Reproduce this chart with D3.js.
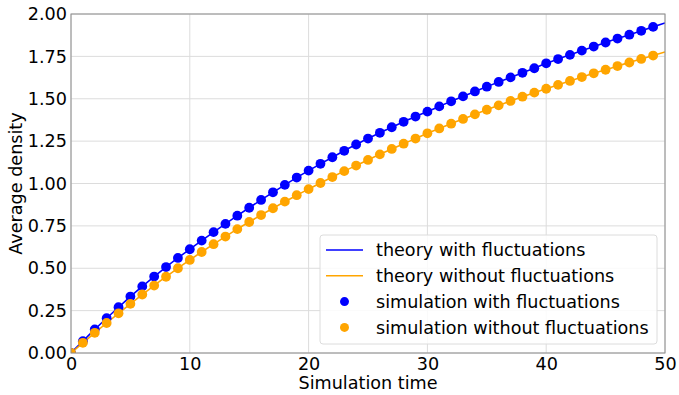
<!DOCTYPE html>
<html>
<head>
<meta charset="utf-8">
<script src="https://cdn.jsdelivr.net/npm/d3@7"></script>
<style>
  body { margin: 0; background: #fff; }
  text { font-family: "DejaVu Sans", sans-serif; fill: #000; }
</style>
</head>
<body>
<svg id="chart" width="679" height="395"></svg>
<script>
// values
var simTimes = d3.range(0, 50);
var theoryTimes = d3.range(0, 51);
var withFluct = [0, 0.070, 0.139, 0.205, 0.270, 0.333, 0.393, 0.451, 0.507, 0.561,
  0.612, 0.663, 0.713, 0.762, 0.810, 0.857, 0.903, 0.948, 0.992, 1.035,
  1.076, 1.116, 1.155, 1.193, 1.230, 1.265, 1.299, 1.332, 1.364, 1.395,
  1.424, 1.455, 1.485, 1.514, 1.543, 1.571, 1.599, 1.626, 1.653, 1.680,
  1.709, 1.734, 1.759, 1.784, 1.808, 1.832, 1.855, 1.878, 1.901, 1.924, 1.947];
var withoutFluct = [0, 0.060, 0.119, 0.177, 0.234, 0.290, 0.345, 0.398, 0.450, 0.500,
  0.549, 0.596, 0.642, 0.687, 0.731, 0.773, 0.814, 0.854, 0.893, 0.931,
  0.967, 1.003, 1.038, 1.073, 1.106, 1.139, 1.172, 1.204, 1.235, 1.265,
  1.296, 1.325, 1.353, 1.381, 1.408, 1.435, 1.461, 1.487, 1.512, 1.536,
  1.559, 1.582, 1.605, 1.628, 1.650, 1.671, 1.693, 1.714, 1.735, 1.755, 1.776];
var xTicks = [0, 10, 20, 30, 40, 50];
var yTicks = [0, 0.25, 0.5, 0.75, 1.0, 1.25, 1.5, 1.75, 2.0];
var legendLabels = ["theory with fluctuations", "theory without fluctuations",
  "simulation with fluctuations", "simulation without fluctuations"];

var BLUE = "#0000ff", ORANGE = "#ffa500";
var pL = 71, pR = 665, pT = 14, pB = 353;
var fs = 17.6;

var svg = d3.select("#chart");
var x = d3.scaleLinear().domain([0, 50]).range([pL, pR]);
var y = d3.scaleLinear().domain([0, 2]).range([pB, pT]);

svg.append("defs").append("clipPath").attr("id", "plotclip")
  .append("rect").attr("x", pL).attr("y", pT)
  .attr("width", pR - pL).attr("height", pB - pT);

// grid
var grid = svg.append("g");
grid.selectAll(".gx").data(xTicks).enter().append("line")
  .attr("x1", d => x(d)).attr("x2", d => x(d)).attr("y1", pT).attr("y2", pB)
  .attr("stroke", "#dcdcdc").attr("stroke-width", 1);
grid.selectAll(".gy").data(yTicks).enter().append("line")
  .attr("y1", d => y(d)).attr("y2", d => y(d)).attr("x1", pL).attr("x2", pR)
  .attr("stroke", "#dcdcdc").attr("stroke-width", 1);

// axes (no tick marks, just labels)
var xAxis = svg.append("g").attr("transform", "translate(0," + pB + ")")
  .call(d3.axisBottom(x).tickValues(xTicks).tickSize(0).tickPadding(5).tickFormat(d3.format("d")));
var yAxis = svg.append("g").attr("transform", "translate(" + pL + ",0)")
  .call(d3.axisLeft(y).tickValues(yTicks).tickSize(0).tickPadding(4).tickFormat(d3.format(".2f")));
[xAxis, yAxis].forEach(function (a) {
  a.select(".domain").remove();
  a.selectAll("text").style("font-family", "DejaVu Sans, sans-serif")
    .style("font-size", fs + "px").attr("fill", "#000");
});

var plot = svg.append("g").attr("clip-path", "url(#plotclip)");
var line = d3.line().x((d, i) => x(theoryTimes[i])).y(d => y(d)).curve(d3.curveMonotoneX);
plot.append("path").datum(withFluct).attr("d", line)
  .attr("fill", "none").attr("stroke", BLUE).attr("stroke-width", 1.6);
plot.append("path").datum(withoutFluct).attr("d", line)
  .attr("fill", "none").attr("stroke", ORANGE).attr("stroke-width", 1.6);
plot.selectAll(".dotb").data(simTimes).enter().append("circle")
  .attr("cx", d => x(d)).attr("cy", d => y(withFluct[d])).attr("r", 4.9).attr("fill", BLUE);
plot.selectAll(".doto").data(simTimes).enter().append("circle")
  .attr("cx", d => x(d)).attr("cy", d => y(withoutFluct[d])).attr("r", 4.9).attr("fill", ORANGE);

// frame
svg.append("rect").attr("x", pL).attr("y", pT)
  .attr("width", pR - pL).attr("height", pB - pT)
  .attr("fill", "none").attr("stroke", "#8c8c8c").attr("stroke-width", 1);

// axis titles
svg.append("text").attr("x", (pL + pR) / 2).attr("y", 389)
  .attr("text-anchor", "middle").style("font-size", fs + "px").text("Simulation time");
svg.append("text").attr("transform", "translate(22," + ((pT + pB) / 2) + ") rotate(-90)")
  .attr("text-anchor", "middle").style("font-size", fs + "px").text("Average density");

// legend
var lg = svg.append("g");
lg.append("rect").attr("x", 320).attr("y", 235).attr("width", 337).attr("height", 109)
  .attr("rx", 3).attr("fill", "#fff").attr("fill-opacity", 0.85)
  .attr("stroke", "#dcdcdc").attr("stroke-width", 1);
var colors = [BLUE, ORANGE, BLUE, ORANGE];
legendLabels.forEach(function (t, i) {
  var cy = 250 + i * 25.8;
  if (i < 2) {
    lg.append("line").attr("x1", 326).attr("x2", 363).attr("y1", cy).attr("y2", cy)
      .attr("stroke", colors[i]).attr("stroke-width", 1.6);
  } else {
    lg.append("circle").attr("cx", 344.5).attr("cy", cy).attr("r", 4.5).attr("fill", colors[i]);
  }
  lg.append("text").attr("x", 376).attr("y", cy).attr("dy", "0.35em")
    .style("font-size", fs + "px").text(t);
});
</script>
</body>
</html>
